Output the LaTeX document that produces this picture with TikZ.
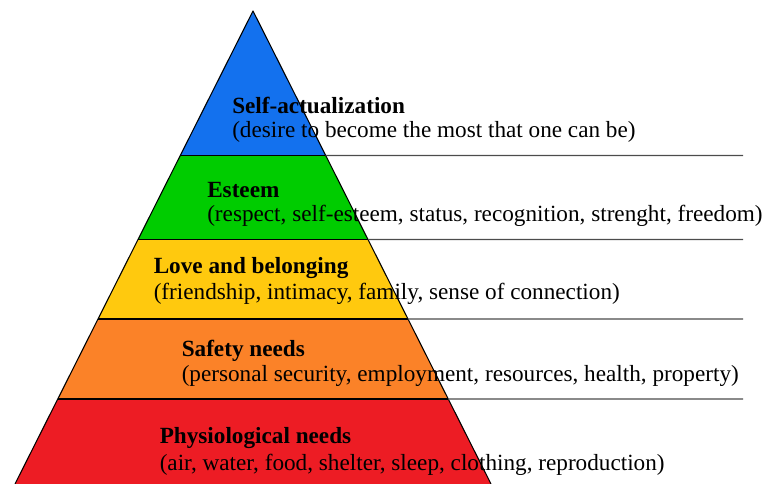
\documentclass[tikz,border=0pt]{standalone}
\usepackage{fontspec}
\setmainfont{Liberation Serif}
\definecolor{lvblue}{HTML}{1371EE}
\definecolor{lvgreen}{HTML}{00CC00}
\definecolor{lvyellow}{HTML}{FFC90E}
\definecolor{lvorange}{HTML}{FB8228}
\definecolor{lvred}{HTML}{ED1C24}
\tikzset{
  level/.style={draw=black, line width=0.8pt, line join=round},
  rule/.style={draw=black!70, line width=0.9pt},
  title/.style={anchor=base west, inner sep=0pt, font=\fontsize{17.4}{19}\selectfont\bfseries},
  desc/.style={anchor=base west, inner sep=0pt, font=\fontsize{17.4}{19}\selectfont},
}
\begin{document}
\begin{tikzpicture}[x=0.75pt, y=-0.75pt]
\useasboundingbox (0,0) rectangle (763,484);
% pyramid corners and level boundaries on the slanted sides
\coordinate (top) at (253,11);
\coordinate (bl) at (15,484);
\coordinate (br) at (491,484);
\foreach \n/\y in {a/155.5, b/239.5, c/319, d/399}{
  \path (top) -- (bl) coordinate[pos={(\y-11)/473}] (l\n);
  \path (top) -- (br) coordinate[pos={(\y-11)/473}] (r\n);
}
% coloured levels
\fill[lvblue]   (top) -- (la) -- (ra) -- cycle;
\fill[lvgreen]  (la) -- (lb) -- (rb) -- (ra) -- cycle;
\fill[lvyellow] (lb) -- (lc) -- (rc) -- (rb) -- cycle;
\fill[lvorange] (lc) -- (ld) -- (rd) -- (rc) -- cycle;
\fill[lvred]    (ld) -- (bl) -- (br) -- (rd) -- cycle;
% outline and dividing lines
\draw[level] (bl) -- (top) -- (br);
\foreach \n in {a,b,c,d}{ \draw[level] (l\n) -- (r\n); }
% rules running out to the right
\coordinate (ea) at (743,155.5);
\coordinate (eb) at (743,239.5);
\coordinate (ec) at (743,319);
\coordinate (ed) at (743,399);
\foreach \n in {a,b,c,d}{ \draw[rule] (r\n) -- (e\n); }
% labels
\node[title] (t1) at (232,113.3) {Self-actualization};
\node[desc]  (d1) at (232,137.7) {(desire to become the most that one can be)};
\node[title] (t2) at (207,197.7) {Esteem};
\node[desc]  (d2) at (207,221.7) {(respect, self-esteem, status, recognition, strenght, freedom)};
\node[title] (t3) at (153.5,274) {Love and belonging};
\node[desc]  (d3) at (153.5,300) {(friendship, intimacy, family, sense of connection)};
\node[title] (t4) at (181.5,356.7) {Safety needs};
\node[desc]  (d4) at (181.5,381.7) {(personal security, employment, resources, health, property)};
\node[title] (t5) at (159.5,443.3) {Physiological needs};
\node[desc]  (d5) at (159.5,470) {(air, water, food, shelter, sleep, clothing, reproduction)};
\end{tikzpicture}
\end{document}
